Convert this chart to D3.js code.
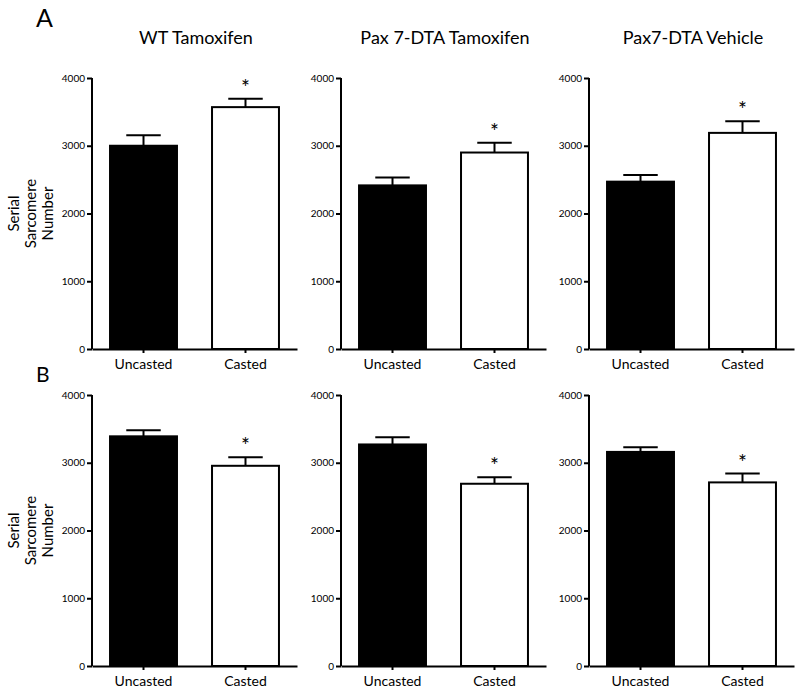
<!DOCTYPE html>
<html>
<head>
<meta charset="utf-8">
<script src="https://cdn.jsdelivr.net/npm/d3@7"></script>
<style>
  html, body { margin: 0; padding: 0; background: #fff; }
  svg { display: block; }
  text { font-family: Lato, "Open Sans", sans-serif; fill: #000; }
</style>
</head>
<body>
<svg id="chart" width="800" height="699"></svg>
<script>
// ---- Data ----
const panelTitles = ["WT Tamoxifen", "Pax 7-DTA Tamoxifen", "Pax7-DTA Vehicle"];
const categories = ["Uncasted", "Casted"];
const rowLabels = ["A", "B"];
const yTicks = [0, 1000, 2000, 3000, 4000];
// Row A means / SEM  (per panel: [Uncasted, Casted])
const meanA = [[3000, 3570], [2415, 2900], [2470, 3190]];
const semA  = [[155, 125], [115, 145], [100, 170]];
const sigA  = [[false, true], [false, true], [false, true]];
// Row B means / SEM
const meanB = [[3390, 2955], [3270, 2690], [3160, 2710]];
const semB  = [[90, 125], [105, 95], [70, 130]];
const sigB  = [[false, true], [false, true], [false, true]];
const yAxisLabel = ["Serial", "Sarcomere", "Number"];

// ---- Layout ----
const svg = d3.select("#chart");
const colX = [92, 341, 589];
const plotW = 205;
const rows = [
  { label: rowLabels[0], means: meanA, sems: semA, sig: sigA, y0: 349, y1: 78, labelY: 27 },
  { label: rowLabels[1], means: meanB, sems: semB, sig: sigB, y0: 666, y1: 395, labelY: 382 }
];
const fills = ["#000", "#fff"];

// Panel titles
panelTitles.forEach((t, i) => {
  svg.append("text")
    .attr("x", colX[i] + 104).attr("y", 44)
    .attr("text-anchor", "middle")
    .style("font-size", "18px")
    .text(t);
});

rows.forEach((row, ri) => {
  svg.append("text")
    .attr("x", 36).attr("y", row.labelY)
    .style("font-size", ri === 0 ? "25px" : "21px")
    .text(row.label);

  // y axis label
  const cy = (row.y0 + row.y1) / 2;
  const yl = svg.append("text")
    .attr("transform", `translate(0,${cy}) rotate(-90)`)
    .attr("text-anchor", "middle")
    .style("font-size", "15px");
  yAxisLabel.forEach((s, k) => {
    yl.append("tspan").attr("x", 0).attr("y", 19 + k * 17).text(s);
  });

  const y = d3.scaleLinear().domain([0, 4000]).range([row.y0, row.y1]);

  colX.forEach((cx, pi) => {
    const g = svg.append("g").attr("transform", `translate(${cx},0)`);
    const x = d3.scaleBand().domain(categories).range([0, plotW])
      .paddingInner(0.324).paddingOuter(0.167);

    const data = categories.map((c, k) => ({
      cat: c, mean: row.means[pi][k], sem: row.sems[pi][k], sig: row.sig[pi][k], fill: fills[k]
    }));

    // error bars (upward only)
    const eb = g.selectAll(".eb").data(data).enter().append("g");
    eb.append("line")
      .attr("x1", d => x(d.cat) + x.bandwidth() / 2)
      .attr("x2", d => x(d.cat) + x.bandwidth() / 2)
      .attr("y1", d => y(d.mean))
      .attr("y2", d => y(d.mean + d.sem))
      .attr("stroke", "#000").attr("stroke-width", 2);
    eb.append("line")
      .attr("x1", d => x(d.cat) + x.bandwidth() * 0.25)
      .attr("x2", d => x(d.cat) + x.bandwidth() * 0.75)
      .attr("y1", d => y(d.mean + d.sem))
      .attr("y2", d => y(d.mean + d.sem))
      .attr("stroke", "#000").attr("stroke-width", 2);

    // bars
    g.selectAll(".bar").data(data).enter().append("rect")
      .attr("x", d => x(d.cat) + 1)
      .attr("width", x.bandwidth() - 2)
      .attr("y", d => y(d.mean))
      .attr("height", d => y(0) - y(d.mean))
      .attr("fill", d => d.fill)
      .attr("stroke", "#000").attr("stroke-width", 2);

    // significance stars
    g.selectAll(".star").data(data.filter(d => d.sig)).enter().append("text")
      .attr("x", d => x(d.cat) + x.bandwidth() / 2)
      .attr("y", d => y(d.mean + d.sem) - 4)
      .attr("text-anchor", "middle")
      .style("font-size", "21px")
      .text("*");

    // y axis
    const yAxis = d3.axisLeft(y).tickValues(yTicks).tickSize(5).tickPadding(2)
      .tickFormat(d3.format("d"));
    const ya = g.append("g").call(yAxis);
    ya.select(".domain").attr("d", `M0,${row.y1}V${row.y0}`).attr("stroke-width", 2);
    ya.selectAll(".tick line").attr("stroke-width", 2);
    ya.selectAll(".tick text").style("font-family", "Lato, sans-serif").style("font-size", "10px").attr("fill", "#000");

    // x axis
    const xAxis = d3.axisBottom(x).tickSize(4).tickPadding(6).tickSizeOuter(0);
    const xa = g.append("g").attr("transform", `translate(0,${row.y0})`).call(xAxis);
    xa.select(".domain").attr("stroke-width", 2);
    xa.selectAll(".tick line").attr("stroke-width", 2);
    xa.selectAll(".tick text").style("font-family", "Lato, sans-serif").style("font-size", "14px").attr("fill", "#000");
  });
});
</script>
</body>
</html>
